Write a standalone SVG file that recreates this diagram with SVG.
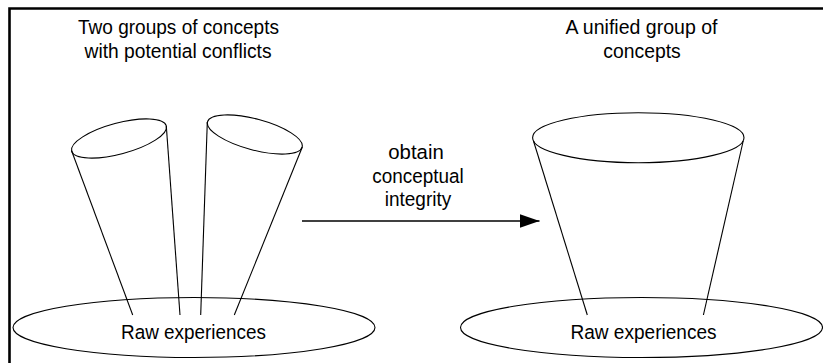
<svg xmlns="http://www.w3.org/2000/svg" width="823" height="363" viewBox="0 0 823 363">
<defs>
<style>
.s{fill:none;stroke:#000;stroke-width:1.1}
.t{font-family:"Liberation Sans",Arial,sans-serif;font-size:20.5px;fill:#000;text-anchor:middle}
</style>
<marker id="ah" markerWidth="20" markerHeight="14" refX="20" refY="7" orient="auto" markerUnits="userSpaceOnUse">
<path d="M0,0 L20,7 L0,14 Z" fill="#000"/>
</marker>
</defs>
<rect width="823" height="363" fill="#fff"/>
<path d="M9.5,363 V8.5 H823" fill="none" stroke="#000" stroke-width="2.6"/>
<g id="title-left">
<text class="t" x="178.5" y="34" textLength="201" lengthAdjust="spacingAndGlyphs">Two groups of concepts</text>
<text class="t" x="178" y="57.5" textLength="187" lengthAdjust="spacingAndGlyphs">with potential conflicts</text>
</g>
<g id="title-right">
<text class="t" x="641.5" y="34" textLength="152" lengthAdjust="spacingAndGlyphs">A unified group of</text>
<text class="t" x="642" y="57.5" textLength="77.5" lengthAdjust="spacingAndGlyphs">concepts</text>
</g>
<g id="raw-left">
<ellipse class="s" cx="194" cy="327.5" rx="181" ry="30"/>
<text class="t" x="193.5" y="338.5" textLength="145" lengthAdjust="spacingAndGlyphs">Raw experiences</text>
</g>
<g id="raw-right">
<ellipse class="s" cx="641.5" cy="327.5" rx="181" ry="30"/>
<text class="t" x="643.5" y="338.5" textLength="146" lengthAdjust="spacingAndGlyphs">Raw experiences</text>
</g>
<g id="cone-a">
<ellipse class="s" cx="119" cy="138.5" rx="49" ry="15.5" transform="rotate(-15 119 138.5)"/>
<line class="s" x1="71.5" y1="150.5" x2="132.7" y2="315"/>
<line class="s" x1="166.3" y1="126" x2="180" y2="315"/>
</g>
<g id="cone-b">
<ellipse class="s" cx="254.8" cy="134.5" rx="49" ry="15.5" transform="rotate(15 254.8 134.5)"/>
<line class="s" x1="207.3" y1="122" x2="200.7" y2="315"/>
<line class="s" x1="302.3" y1="147" x2="234.3" y2="315"/>
</g>
<g id="cone-unified">
<ellipse class="s" cx="638.3" cy="137.7" rx="105.7" ry="25"/>
<line class="s" x1="533.5" y1="141" x2="587.3" y2="315"/>
<line class="s" x1="743.2" y1="141" x2="703.4" y2="315"/>
</g>
<g id="connectors">
<line x1="302" y1="221" x2="539.5" y2="221" stroke="#000" stroke-width="1.3" marker-end="url(#ah)"/>
<text class="t" x="416" y="159" textLength="55.5" lengthAdjust="spacingAndGlyphs">obtain</text>
<text class="t" x="418" y="182.5" textLength="91.5" lengthAdjust="spacingAndGlyphs">conceptual</text>
<text class="t" x="418" y="206" textLength="66.5" lengthAdjust="spacingAndGlyphs">integrity</text>
</g>
</svg>
